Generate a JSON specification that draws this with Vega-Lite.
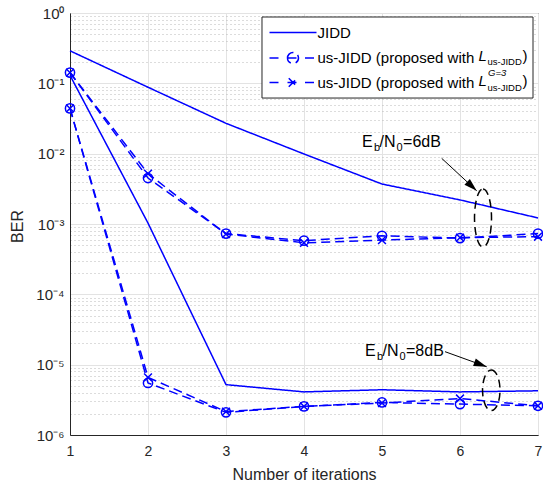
{
  "$schema": "https://vega.github.io/schema/vega-lite/v6.json",
  "width": 468,
  "height": 422,
  "autosize": {"type": "none"},
  "padding": {"left": 70, "top": 13, "right": 5, "bottom": 52},
  "background": "white",
  "config": {
    "font": "Liberation Sans",
    "view": {"stroke": "#262626", "strokeWidth": 1},
    "axis": {
      "domainColor": "#262626",
      "labelColor": "#262626",
      "titleColor": "#262626",
      "labelFont": "Liberation Sans",
      "titleFont": "Liberation Sans",
      "titleFontWeight": "normal",
      "labelFontSize": 14,
      "titleFontSize": 16,
      "ticks": false,
      "gridColor": "#e3e3e3"
    }
  },
  "data": {
    "values": [
      {"snr": 6, "method": "JIDD", "iter": 1, "ber": 0.29},
      {"snr": 6, "method": "JIDD", "iter": 2, "ber": 0.088},
      {"snr": 6, "method": "JIDD", "iter": 3, "ber": 0.027},
      {"snr": 6, "method": "JIDD", "iter": 4, "ber": 0.0099},
      {"snr": 6, "method": "JIDD", "iter": 5, "ber": 0.0037},
      {"snr": 6, "method": "JIDD", "iter": 6, "ber": 0.0022},
      {"snr": 6, "method": "JIDD", "iter": 7, "ber": 0.00122},
      {"snr": 6, "method": "usL", "iter": 1, "ber": 0.142},
      {"snr": 6, "method": "usL", "iter": 2, "ber": 0.0045},
      {"snr": 6, "method": "usL", "iter": 3, "ber": 0.00073},
      {"snr": 6, "method": "usL", "iter": 4, "ber": 0.00058},
      {"snr": 6, "method": "usL", "iter": 5, "ber": 0.00068},
      {"snr": 6, "method": "usL", "iter": 6, "ber": 0.00063},
      {"snr": 6, "method": "usL", "iter": 7, "ber": 0.00073},
      {"snr": 6, "method": "usLG", "iter": 1, "ber": 0.142},
      {"snr": 6, "method": "usLG", "iter": 2, "ber": 0.0052},
      {"snr": 6, "method": "usLG", "iter": 3, "ber": 0.00072},
      {"snr": 6, "method": "usLG", "iter": 4, "ber": 0.00054},
      {"snr": 6, "method": "usLG", "iter": 5, "ber": 0.00059},
      {"snr": 6, "method": "usLG", "iter": 6, "ber": 0.00064},
      {"snr": 6, "method": "usLG", "iter": 7, "ber": 0.00066},
      {"snr": 8, "method": "JIDD", "iter": 1, "ber": 0.13},
      {"snr": 8, "method": "JIDD", "iter": 2, "ber": 0.00103},
      {"snr": 8, "method": "JIDD", "iter": 3, "ber": 5.2e-6},
      {"snr": 8, "method": "JIDD", "iter": 4, "ber": 4.1e-6},
      {"snr": 8, "method": "JIDD", "iter": 5, "ber": 4.4e-6},
      {"snr": 8, "method": "JIDD", "iter": 6, "ber": 4.1e-6},
      {"snr": 8, "method": "JIDD", "iter": 7, "ber": 4.25e-6},
      {"snr": 8, "method": "usL", "iter": 1, "ber": 0.044},
      {"snr": 8, "method": "usL", "iter": 2, "ber": 5.5e-6},
      {"snr": 8, "method": "usL", "iter": 3, "ber": 2.1e-6},
      {"snr": 8, "method": "usL", "iter": 4, "ber": 2.55e-6},
      {"snr": 8, "method": "usL", "iter": 5, "ber": 2.9e-6},
      {"snr": 8, "method": "usL", "iter": 6, "ber": 2.75e-6},
      {"snr": 8, "method": "usL", "iter": 7, "ber": 2.6e-6},
      {"snr": 8, "method": "usLG", "iter": 1, "ber": 0.044},
      {"snr": 8, "method": "usLG", "iter": 2, "ber": 6.6e-6},
      {"snr": 8, "method": "usLG", "iter": 3, "ber": 2.15e-6},
      {"snr": 8, "method": "usLG", "iter": 4, "ber": 2.55e-6},
      {"snr": 8, "method": "usLG", "iter": 5, "ber": 2.85e-6},
      {"snr": 8, "method": "usLG", "iter": 6, "ber": 3.3e-6},
      {"snr": 8, "method": "usLG", "iter": 7, "ber": 2.6e-6}
    ]
  },
  "layer": [
    {
      "data": {"values": [{}]},
      "mark": {"type": "rect", "fill": "white", "stroke": "#262626", "strokeWidth": 1},
      "encoding": {
        "x": {"datum": 3.4615, "type": "quantitative", "scale": {"domain": [1, 7], "nice": false, "zero": false},
          "axis": {"title": "Number of iterations", "values": [1, 2, 3, 4, 5, 6, 7], "format": "d", "labelFlush": false, "labelPadding": 9, "titleY": 44, "titleBaseline": "alphabetic", "grid": true, "gridColor": "#e3e3e3"}},
        "x2": {"datum": 6.936},
        "y": {"datum": 0.877, "type": "quantitative", "scale": {"type": "log", "domain": [1e-6, 1], "nice": false},
          "axis": {
            "title": "BER",
            "values": [1e-6, 2e-6, 3e-6, 4e-6, 5e-6, 6e-6, 7e-6, 8e-6, 9e-6, 1e-5, 2e-5, 3e-5, 4e-5, 5e-5, 6e-5, 7e-5, 8e-5, 9e-5, 1e-4, 2e-4, 3e-4, 4e-4, 5e-4, 6e-4, 7e-4, 8e-4, 9e-4, 0.001, 0.002, 0.003, 0.004, 0.005, 0.006, 0.007, 0.008, 0.009, 0.01, 0.02, 0.03, 0.04, 0.05, 0.06, 0.07, 0.08, 0.09, 0.1, 0.2, 0.3, 0.4, 0.5, 0.6, 0.7, 0.8, 0.9, 1],
            "labelExpr": "abs(log(datum.value)/LN10 - round(log(datum.value)/LN10)) < 0.001 ? '10' + ['⁰','⁻¹','⁻²','⁻³','⁻⁴','⁻⁵','⁻⁶'][-round(log(datum.value)/LN10)] : ''",
            "labelOverlap": false,
            "labelBound": false,
            "labelPadding": 6,
            "labelFontSize": 15,
            "titleX": -53,
            "titleY": 213,
            "titleAngle": -90,
            "titleAlign": "center",
            "titleBaseline": "middle",
            "grid": true,
            "gridDash": {"condition": {"test": "abs(log(datum.value)/LN10 - round(log(datum.value)/LN10)) < 0.001", "value": []}, "value": [1, 3]},
            "gridColor": {"condition": {"test": "abs(log(datum.value)/LN10 - round(log(datum.value)/LN10)) < 0.001", "value": "#e3e3e3"}, "value": "#b8b8b8"}
          }},
        "y2": {"datum": 0.0618}
      }
    },
    {
      "mark": {"type": "line", "color": "#0000ff", "strokeWidth": 1.5},
      "encoding": {
        "x": {"field": "iter", "type": "quantitative"},
        "y": {"field": "ber", "type": "quantitative"},
        "detail": {"field": "snr"},
        "strokeDash": {
          "field": "method",
          "type": "nominal",
          "scale": {"domain": ["JIDD", "usL", "usLG"], "range": [[1, 0], [9, 5], [9, 5]]},
          "legend": {
            "title": null,
            "orient": "none",
            "legendX": 192,
            "legendY": 4,
            "padding": 8,
            "rowPadding": 8.5,
            "labelFont": "Liberation Sans",
            "labelFontSize": 15,
            "labelColor": "black",
            "labelLimit": 300,
            "labelExpr": "datum.value === 'JIDD' ? 'JIDD' : 'us-JIDD (proposed with'",
            "symbolSize": 100,
            "symbolOffset": 15.5,
            "labelOffset": 17,
            "symbolStrokeWidth": 1.5,
            "symbolStrokeColor": "#0000ff",
            "encode": {
              "symbols": {
                "update": {
                  "shape": {"signal": "datum.value === 'JIDD' ? 'M-4.7,0H4.7' : datum.value === 'usL' ? 'M-4.7,0H-2.4M-1.1,0A1.1,1.1 0 1,1 1.1,0A1.1,1.1 0 1,1 -1.1,0M-1.1,0H1.1M2.4,0H4.7' : 'M-4.7,0H-2.4M-0.85,-0.85L0.85,0.85M-0.85,0.85L0.85,-0.85M-1.1,0H1.1M2.4,0H4.7'"},
                  "strokeDash": {"value": []},
                  "stroke": {"value": "#0000ff"},
                  "fill": {"value": "transparent"}
                }
              }
            }
          }
        }
      }
    },
    {
      "transform": [{"filter": "datum.method !== 'JIDD'"}],
      "mark": {"type": "point", "filled": false, "strokeWidth": 1.5, "color": "#0000ff", "size": 85, "opacity": 1},
      "encoding": {
        "x": {"field": "iter", "type": "quantitative"},
        "y": {"field": "ber", "type": "quantitative"},
        "shape": {"field": "method", "type": "nominal", "scale": {"domain": ["usL", "usLG"], "range": ["circle", "M-0.85,-0.85L0.85,0.85M-0.85,0.85L0.85,-0.85"]}, "legend": null}
      }
    },
    {"data": {"values": [{}]}, "mark": {"type": "text", "text": "L", "font": "Liberation Sans", "fontStyle": "italic", "fontSize": 15, "align": "left", "baseline": "middle", "color": "black", "dx": 160.5}, "encoding": {"x": {"datum": 4.1795}, "y": {"datum": 0.2487}}},
    {"data": {"values": [{}]}, "mark": {"type": "text", "text": "us-JIDD", "font": "Liberation Sans", "fontSize": 9.5, "align": "left", "baseline": "middle", "color": "black", "dx": 169.5, "dy": 6}, "encoding": {"x": {"datum": 4.1795}, "y": {"datum": 0.2487}}},
    {"data": {"values": [{}]}, "mark": {"type": "text", "text": ")", "font": "Liberation Sans", "fontSize": 15, "align": "left", "baseline": "middle", "color": "black", "dx": 204.5}, "encoding": {"x": {"datum": 4.1795}, "y": {"datum": 0.2487}}},
    {"data": {"values": [{}]}, "mark": {"type": "text", "text": "L", "font": "Liberation Sans", "fontStyle": "italic", "fontSize": 15, "align": "left", "baseline": "middle", "color": "black", "dx": 160.5}, "encoding": {"x": {"datum": 4.1795}, "y": {"datum": 0.1079}}},
    {"data": {"values": [{}]}, "mark": {"type": "text", "text": "G=3", "font": "Liberation Sans", "fontStyle": "italic", "fontSize": 9.5, "align": "left", "baseline": "middle", "color": "black", "dx": 170, "dy": -8.5}, "encoding": {"x": {"datum": 4.1795}, "y": {"datum": 0.1079}}},
    {"data": {"values": [{}]}, "mark": {"type": "text", "text": "us-JIDD", "font": "Liberation Sans", "fontSize": 9.5, "align": "left", "baseline": "middle", "color": "black", "dx": 169.5, "dy": 7}, "encoding": {"x": {"datum": 4.1795}, "y": {"datum": 0.1079}}},
    {"data": {"values": [{}]}, "mark": {"type": "text", "text": ")", "font": "Liberation Sans", "fontSize": 15, "align": "left", "baseline": "middle", "color": "black", "dx": 204.5}, "encoding": {"x": {"datum": 4.1795}, "y": {"datum": 0.1079}}},
    {"data": {"values": [{}]}, "mark": {"type": "rule", "color": "black", "strokeWidth": 1}, "encoding": {"x": {"datum": 5.765}, "y": {"datum": 0.00859}, "x2": {"datum": 6.214}, "y2": {"datum": 0.00297}}},
    {"data": {"values": [{}]}, "mark": {"type": "point", "shape": "M0,0L-0.8,2.6L0.8,2.6Z", "size": 100, "filled": true, "color": "black", "opacity": 1, "angle": 132.8}, "encoding": {"x": {"datum": 6.214}, "y": {"datum": 0.00297}}},
    {"data": {"values": [{}]}, "mark": {"type": "point", "shape": "M0,-1A0.293,1 0 1,1 0,1A0.293,1 0 1,1 0,-1Z", "size": 3364, "filled": false, "color": "black", "strokeWidth": 1.5, "strokeDash": [8, 5], "opacity": 1}, "encoding": {"x": {"datum": 6.295}, "y": {"datum": 0.001217}}},
    {"data": {"values": [{}]}, "mark": {"type": "rule", "color": "black", "strokeWidth": 1}, "encoding": {"x": {"datum": 5.808}, "y": {"datum": 1.53e-5}, "x2": {"datum": 6.342}, "y2": {"datum": 9.35e-6}}},
    {"data": {"values": [{}]}, "mark": {"type": "point", "shape": "M0,0L-0.8,2.6L0.8,2.6Z", "size": 100, "filled": true, "color": "black", "opacity": 1, "angle": 109.8}, "encoding": {"x": {"datum": 6.342}, "y": {"datum": 9.35e-6}}},
    {"data": {"values": [{}]}, "mark": {"type": "point", "shape": "M0,-1A0.43,1 0 1,1 0,1A0.43,1 0 1,1 0,-1Z", "size": 1648, "filled": false, "color": "black", "strokeWidth": 1.5, "strokeDash": [8, 5], "opacity": 1}, "encoding": {"x": {"datum": 6.401}, "y": {"datum": 4.32e-6}}},
    {"data": {"values": [{}]}, "mark": {"type": "text", "text": "E", "font": "Liberation Sans", "fontSize": 16, "align": "left", "baseline": "alphabetic", "color": "black", "dx": 0}, "encoding": {"x": {"datum": 4.744}, "y": {"datum": 0.01256}}},
    {"data": {"values": [{}]}, "mark": {"type": "text", "text": "b", "font": "Liberation Sans", "fontSize": 11, "align": "left", "baseline": "alphabetic", "color": "black", "dx": 12, "dy": 4}, "encoding": {"x": {"datum": 4.744}, "y": {"datum": 0.01256}}},
    {"data": {"values": [{}]}, "mark": {"type": "text", "text": "/N", "font": "Liberation Sans", "fontSize": 16, "align": "left", "baseline": "alphabetic", "color": "black", "dx": 17.5}, "encoding": {"x": {"datum": 4.744}, "y": {"datum": 0.01256}}},
    {"data": {"values": [{}]}, "mark": {"type": "text", "text": "0", "font": "Liberation Sans", "fontSize": 11, "align": "left", "baseline": "alphabetic", "color": "black", "dx": 34.5, "dy": 4}, "encoding": {"x": {"datum": 4.744}, "y": {"datum": 0.01256}}},
    {"data": {"values": [{}]}, "mark": {"type": "text", "text": "=6dB", "font": "Liberation Sans", "fontSize": 16, "align": "left", "baseline": "alphabetic", "color": "black", "dx": 41}, "encoding": {"x": {"datum": 4.744}, "y": {"datum": 0.01256}}},
    {"data": {"values": [{}]}, "mark": {"type": "text", "text": "E", "font": "Liberation Sans", "fontSize": 16, "align": "left", "baseline": "alphabetic", "color": "black", "dx": 0}, "encoding": {"x": {"datum": 4.782}, "y": {"datum": 1.327e-5}}},
    {"data": {"values": [{}]}, "mark": {"type": "text", "text": "b", "font": "Liberation Sans", "fontSize": 11, "align": "left", "baseline": "alphabetic", "color": "black", "dx": 12, "dy": 4}, "encoding": {"x": {"datum": 4.782}, "y": {"datum": 1.327e-5}}},
    {"data": {"values": [{}]}, "mark": {"type": "text", "text": "/N", "font": "Liberation Sans", "fontSize": 16, "align": "left", "baseline": "alphabetic", "color": "black", "dx": 17.5}, "encoding": {"x": {"datum": 4.782}, "y": {"datum": 1.327e-5}}},
    {"data": {"values": [{}]}, "mark": {"type": "text", "text": "0", "font": "Liberation Sans", "fontSize": 11, "align": "left", "baseline": "alphabetic", "color": "black", "dx": 34.5, "dy": 4}, "encoding": {"x": {"datum": 4.782}, "y": {"datum": 1.327e-5}}},
    {"data": {"values": [{}]}, "mark": {"type": "text", "text": "=8dB", "font": "Liberation Sans", "fontSize": 16, "align": "left", "baseline": "alphabetic", "color": "black", "dx": 41}, "encoding": {"x": {"datum": 4.782}, "y": {"datum": 1.327e-5}}}
  ]
}
